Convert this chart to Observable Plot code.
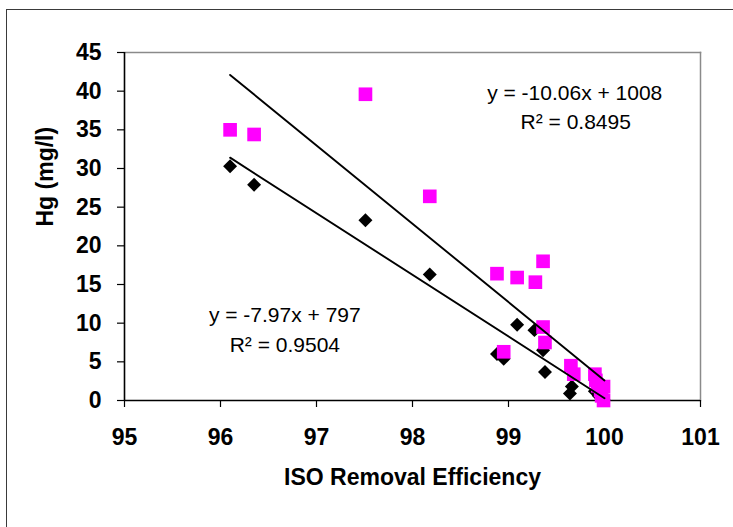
<!DOCTYPE html>
<html>
<head>
<meta charset="utf-8">
<script src="https://cdn.jsdelivr.net/npm/d3@7"></script>
<script src="https://cdn.jsdelivr.net/npm/@observablehq/plot@0.6"></script>
<style>
html, body { margin: 0; padding: 0; background: #fff; overflow: hidden; }
#wrap { position: relative; width: 733px; height: 527px; }
#chart { position: absolute; left: 0; top: 0; }
#frame { position: absolute; left: 6px; top: 9px; width: 800px; height: 600px; border: 1.5px solid #3a3a3a; pointer-events: none; }
</style>
</head>
<body>
<div id="wrap"><div id="chart"></div><div id="frame"></div></div>
<script>
// Series 1 (black diamonds)
const isoEffA = [96.10, 96.35, 97.51, 98.18, 98.88, 98.95, 99.09, 99.27, 99.36, 99.38, 99.64, 99.66, 99.90, 99.94, 99.97, 99.99];
const hgA     = [30.3, 27.9, 23.3, 16.3, 6.0, 5.4, 9.8, 9.1, 6.5, 3.7, 0.9, 1.8, 1.2, 0.6, 0.2, 0.1];
// Series 2 (magenta squares)
const isoEffB = [96.10, 96.35, 97.51, 98.18, 98.88, 98.95, 99.09, 99.28, 99.36, 99.36, 99.38, 99.65, 99.68, 99.90, 99.91, 99.93, 99.96, 99.97, 99.99, 99.99];
const hgB     = [35.0, 34.4, 39.6, 26.4, 16.4, 6.3, 15.9, 15.3, 18.0, 9.5, 7.5, 4.5, 3.4, 3.4, 2.6, 1.9, 1.3, 0.6, 1.8, 0.0];
// Trendlines as drawn (endpoints)
const trendX  = [96.10, 100.0];
const trendA  = [31.4, 0.3];
const trendB  = [42.1, 2.6];
// Equation labels
const eqA = ["y = -7.97x + 797", "R\u00b2 = 0.9504"];
const eqB = ["y = -10.06x + 1008", "R\u00b2 = 0.8495"];
// Ticks
const xTicks = [95, 96, 97, 98, 99, 100, 101];
const yTicks = [0, 5, 10, 15, 20, 25, 30, 35, 40, 45];
const xTitle = "ISO Removal Efficiency";
const yTitle = "Hg (mg/l)";

const ptsA = isoEffA.map((x, i) => ({x, y: hgA[i]}));
const ptsB = isoEffB.map((x, i) => ({x, y: hgB[i]}));
const lineA = trendX.map((x, i) => ({x, y: trendA[i]}));
const lineB = trendX.map((x, i) => ({x, y: trendB[i]}));

const font = "'Liberation Sans', Arial, sans-serif";

const chart = Plot.plot({
  width: 733,
  height: 527,
  marginLeft: 124,
  marginRight: 33,
  marginTop: 52,
  marginBottom: 127,
  x: {domain: [95, 101]},
  y: {domain: [0, 45]},
  style: {fontFamily: font, background: "transparent", overflow: "visible", color: "black"},
  marks: [
    Plot.frame({anchor: "top", stroke: "#8a8a8a", strokeWidth: 1.5}),
    Plot.frame({anchor: "right", stroke: "#8a8a8a", strokeWidth: 1.5}),
    Plot.axisY({ticks: yTicks, tickFormat: d3.format("d"), tickSize: 7, tickPadding: 16, fontSize: 23, fontWeight: "bold", label: null, strokeWidth: 1.2}),
    Plot.axisX({ticks: xTicks, tickFormat: d3.format("d"), tickSize: 7, tickPadding: 21, fontSize: 23, fontWeight: "bold", label: null, strokeWidth: 1.2}),
    Plot.ruleY([0], {stroke: "black", strokeWidth: 1.6}),
    Plot.ruleX([95], {stroke: "black", strokeWidth: 1.6}),
    Plot.dot(ptsA, {x: "x", y: "y", symbol: "diamond2", r: 6.3, fill: "black", stroke: "none"}),
    Plot.dot(ptsB, {x: "x", y: "y", symbol: "square", r: 7.7, fill: "#ff00ff", stroke: "none"}),
    Plot.line(lineA, {x: "x", y: "y", stroke: "black", strokeWidth: 1.9}),
    Plot.line(lineB, {x: "x", y: "y", stroke: "black", strokeWidth: 1.9}),
    Plot.text([eqB[0]], {x: () => 99.69, y: () => 38.9, lineAnchor: "bottom", fontSize: 21, fill: "black"}),
    Plot.text([eqB[1]], {x: () => 99.70, y: () => 35.05, lineAnchor: "bottom", fontSize: 21, fill: "black"}),
    Plot.text([eqA[0]], {x: () => 96.67, y: () => 10.2, lineAnchor: "bottom", fontSize: 21, fill: "black"}),
    Plot.text([eqA[1]], {x: () => 96.67, y: () => 6.3, lineAnchor: "bottom", fontSize: 21, fill: "black"}),
    Plot.text([xTitle], {frameAnchor: "bottom", dy: 84, fontSize: 23, fontWeight: "bold", fill: "black"}),
    Plot.text([yTitle], {frameAnchor: "left", dx: -79, rotate: -90, fontSize: 23, fontWeight: "bold", fill: "black"})
  ]
});
document.getElementById("chart").appendChild(chart);
</script>
</body>
</html>
